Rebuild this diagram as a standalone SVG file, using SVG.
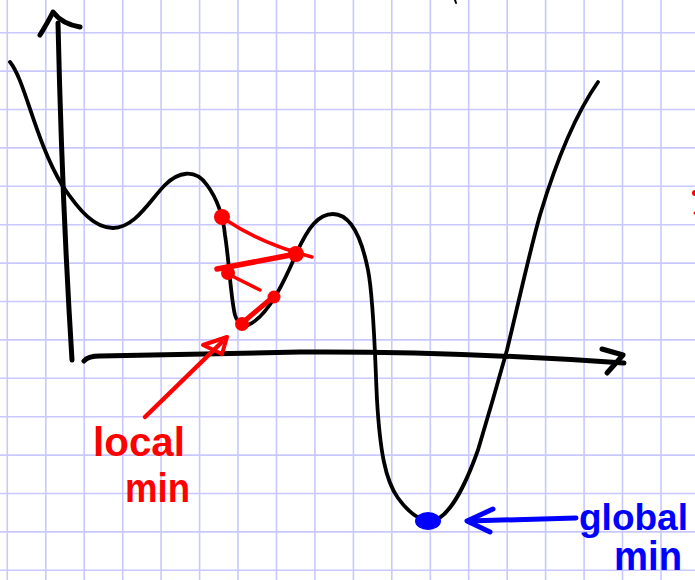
<svg xmlns="http://www.w3.org/2000/svg" width="695" height="580" viewBox="0 0 695 580">
<style>
.grid line{stroke:#c8c8ff;stroke-width:1.6}
.ink{fill:none;stroke:#000;stroke-linecap:round;stroke-linejoin:round}
.red{fill:none;stroke:#ff0000;stroke-linecap:round;stroke-linejoin:round}
.blue{fill:none;stroke:#0000ff;stroke-linecap:round;stroke-linejoin:round}
.lbl{font-family:"Liberation Sans","DejaVu Sans",sans-serif;font-weight:bold;font-size:40px}
</style>
<rect width="695" height="580" fill="#fff"/>
<g class="grid" id="grid">
<line x1="7.3" y1="0" x2="7.3" y2="580"/><line x1="45.8" y1="0" x2="45.8" y2="580"/><line x1="84.2" y1="0" x2="84.2" y2="580"/><line x1="122.7" y1="0" x2="122.7" y2="580"/><line x1="161.1" y1="0" x2="161.1" y2="580"/><line x1="199.6" y1="0" x2="199.6" y2="580"/><line x1="238" y1="0" x2="238" y2="580"/><line x1="276.5" y1="0" x2="276.5" y2="580"/><line x1="314.9" y1="0" x2="314.9" y2="580"/><line x1="353.4" y1="0" x2="353.4" y2="580"/><line x1="391.8" y1="0" x2="391.8" y2="580"/><line x1="430.3" y1="0" x2="430.3" y2="580"/><line x1="468.7" y1="0" x2="468.7" y2="580"/><line x1="507.2" y1="0" x2="507.2" y2="580"/><line x1="545.6" y1="0" x2="545.6" y2="580"/><line x1="584.1" y1="0" x2="584.1" y2="580"/><line x1="622.5" y1="0" x2="622.5" y2="580"/><line x1="661" y1="0" x2="661" y2="580"/>
<line x1="0" y1="32.7" x2="695" y2="32.7"/><line x1="0" y1="71.1" x2="695" y2="71.1"/><line x1="0" y1="109.5" x2="695" y2="109.5"/><line x1="0" y1="147.9" x2="695" y2="147.9"/><line x1="0" y1="186.3" x2="695" y2="186.3"/><line x1="0" y1="224.7" x2="695" y2="224.7"/><line x1="0" y1="263.1" x2="695" y2="263.1"/><line x1="0" y1="301.5" x2="695" y2="301.5"/><line x1="0" y1="339.9" x2="695" y2="339.9"/><line x1="0" y1="378.3" x2="695" y2="378.3"/><line x1="0" y1="416.7" x2="695" y2="416.7"/><line x1="0" y1="455.1" x2="695" y2="455.1"/><line x1="0" y1="493.5" x2="695" y2="493.5"/><line x1="0" y1="531.9" x2="695" y2="531.9"/><line x1="0" y1="570.3" x2="695" y2="570.3"/>
</g>
<g id="axes">
<path class="ink" stroke-width="5" d="M58,23 Q62,200 72,360"/>
<path class="ink" stroke-width="5" d="M40,35 Q48,22 53,12 Q62,24 80,27"/>
<path class="ink" stroke-width="5" d="M84,361 Q88,356 100,356 L300,352 Q450,351 624,363"/>
<path class="ink" stroke-width="5" d="M602,349 L623,355 L607,373"/>
<path class="ink" stroke-width="2" d="M455,0 L456,3"/>
</g>
<g id="curve">
<path class="ink" stroke-width="3.8" d="M10,62 C25,80 35,140 62,185 C80,212 95,228 113,228 C135,228 150,200 165,185 C178,172 195,168 207,185 C218,200 223,215 225,235 C229,260 231,300 235,315 C238,325 245,328 252,323 C270,312 285,280 297,252 C308,228 318,214 333,214 C352,214 362,240 368,270 C374,300 375,360 377,400 C380,450 385,480 398,498 C408,512 420,521 430,521 C445,521 462,495 478,450 C490,410 500,375 507,350 C518,305 530,250 540,215 C555,165 575,115 598,82"/>
</g>
<g id="steps">
<path class="red" stroke-width="3.5" d="M226,220 Q262,244 312,257"/>
<path class="red" stroke-width="5.5" d="M296,254 L217,269"/>
<path class="red" stroke-width="3.5" d="M228,274 L260,290"/>
<path class="red" stroke-width="5" d="M273,297 L241,324"/>
<circle id="p1" cx="222" cy="217" r="8" fill="#ff0000"/>
<circle id="p2" cx="296" cy="254" r="8" fill="#ff0000"/>
<circle id="p3" cx="228" cy="273" r="7" fill="#ff0000"/>
<circle id="p4" cx="274" cy="297" r="6.5" fill="#ff0000"/>
<circle id="p5" cx="242" cy="324" r="7" fill="#ff0000"/>
<circle cx="695" cy="193" r="3" fill="#ff0000"/>
<circle cx="695" cy="213" r="1.5" fill="#ff0000"/>
<ellipse id="gmin" cx="428" cy="521" rx="13" ry="9" fill="#0000ff"/>
</g>
<g id="connectors">
<path class="red" stroke-width="4.5" d="M145,417 L222,342"/>
<path class="red" stroke-width="4" fill="#ff0000" d="M203,345 L227,337 L222,354 Z"/>
<path class="blue" stroke-width="5" d="M576,518 L468,521"/>
<path class="blue" stroke-width="5" d="M493,509 L467,521 L490,532"/>
</g>
<g id="label-local">
<text class="lbl" fill="#ff0000" x="93" y="456" textLength="92" lengthAdjust="spacingAndGlyphs">local</text>
<text class="lbl" fill="#ff0000" x="125" y="502" textLength="65" lengthAdjust="spacingAndGlyphs">min</text>
</g>
<g id="label-global">
<text class="lbl" fill="#0000ff" x="579" y="530" style="font-size:37px">global</text>
<text class="lbl" fill="#0000ff" x="614" y="570" textLength="68" lengthAdjust="spacingAndGlyphs">min</text>
</g>
</svg>
